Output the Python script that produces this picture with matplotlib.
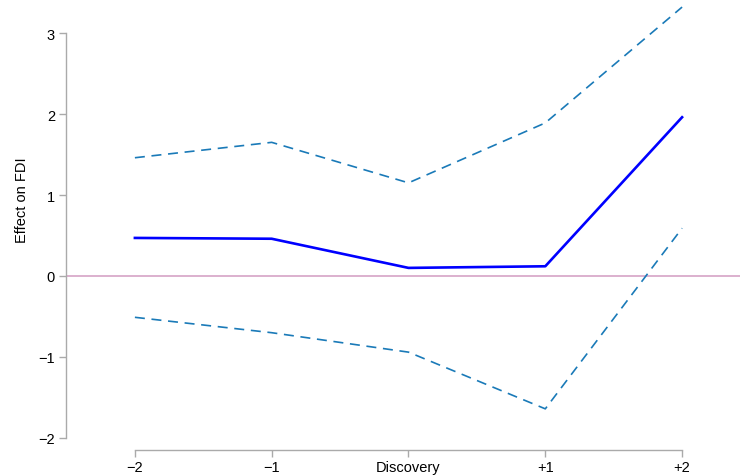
import matplotlib
matplotlib.use("Agg")
import matplotlib.pyplot as plt

periods = ["\u22122", "\u22121", "Discovery", "+1", "+2"]
xpos = [-2, -1, 0, 1, 2]
effect = [0.47, 0.46, 0.10, 0.12, 1.96]
upper = [1.46, 1.65, 1.15, 1.89, 3.32]
lower = [-0.51, -0.70, -0.94, -1.64, 0.59]
yticks = [-2, -1, 0, 1, 2, 3]
ytick_labels = ["\u22122", "\u22121", "0", "1", "2", "3"]

plt.rcParams['font.family'] = ['Liberation Sans', 'DejaVu Sans']

W, H = 740, 477
fig = plt.figure(figsize=(W / 100, H / 100), dpi=100)
L, B = 66, 26
ax = fig.add_axes([L / W, B / H, (W - L) / W, (H - B) / H])

x_left = -2 - (135 - L) / 137
x_right = 2 + (W - 682) / 137
y_bottom = -(451 - 277) / 81
y_top = 277 / 81
ax.set_xlim(x_left, x_right)
ax.set_ylim(y_bottom, y_top)

ax.axhline(0, color="#d6a3c6", lw=1.2, zorder=1)
ax.plot(xpos, upper, color="#1a7ab8", lw=1.2, ls=(0, (6, 4)), zorder=2)
ax.plot(xpos, lower, color="#1a7ab8", lw=1.2, ls=(0, (6, 4)), zorder=2)
ax.plot(xpos, effect, color="#0000ff", lw=1.9, zorder=3)

for s in ["top", "right"]:
    ax.spines[s].set_visible(False)
ax.spines["left"].set_bounds(-2, 3)
ax.spines["bottom"].set_bounds(-2, 2)
ax.spines["bottom"].set_position(("data", y_bottom))
for s in ["left", "bottom"]:
    ax.spines[s].set_color("#aaaaaa")
    ax.spines[s].set_linewidth(1.0)

ax.set_xticks(xpos)
ax.set_xticklabels(periods)
ax.set_yticks(yticks)
ax.set_yticklabels(ytick_labels)
ax.tick_params(axis="both", colors="#aaaaaa", labelcolor="black", labelsize=10.5, length=5, width=1.0, direction="out")
ax.tick_params(axis="x", pad=2)
ax.tick_params(axis="y", pad=3)

fig.text(22 / W, 1 - 200 / H, "Effect on FDI", rotation=90, ha="center", va="center", fontsize=10.5)

fig.savefig("out.png", dpi=100)
